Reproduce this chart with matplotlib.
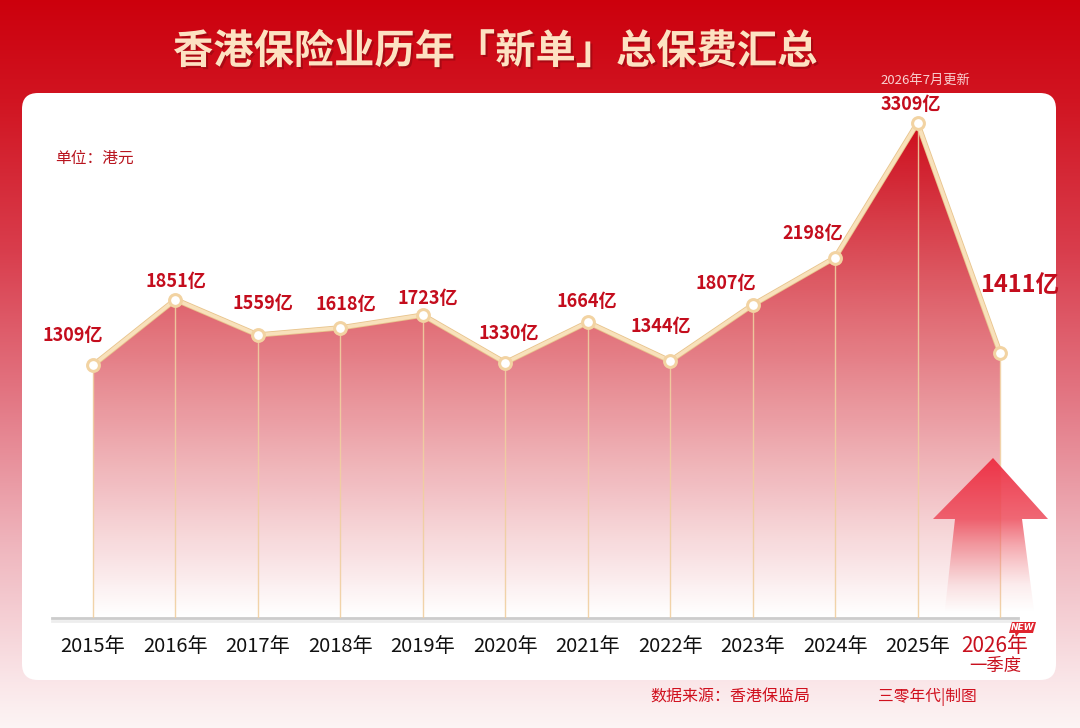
import numpy as np
import matplotlib
matplotlib.use("Agg")
import matplotlib.pyplot as plt
from matplotlib.patches import FancyBboxPatch, Polygon
from matplotlib import patheffects as pe
from matplotlib.transforms import blended_transform_factory

plt.rcParams['font.family'] = ['Noto Sans CJK SC', 'DejaVu Sans']

# ---------------- data ----------------
years = ['2015年', '2016年', '2017年', '2018年', '2019年', '2020年',
         '2021年', '2022年', '2023年', '2024年', '2025年', '2026年']
values = [1309, 1851, 1559, 1618, 1723, 1330, 1664, 1344, 1807, 2198, 3309, 1411]
value_labels = [f'{v}亿' for v in values]
title = '香港保险业历年「新单」总保费汇总'
update_note = '2026年7月更新'
unit_note = '单位：港元'
last_sub = '一季度'
source_note = '数据来源：香港保监局'
credit_note = '三零年代|制图'

# label offsets (pixels) relative to points – style only
label_offsets = [(-20, 30), (0, 18), (5, 31), (5, 23), (5, 17), (3, 29),
                 (-1, 21), (-9, 35), (-27, 21), (-22, 24), (-7, 19), (20, 68)]

W, H = 1080, 728
fig = plt.figure(figsize=(W / 100, H / 100), dpi=100)

# ---------------- background axes (pixel coords) ----------------
bg = fig.add_axes([0, 0, 1, 1], zorder=0)
bg.set_xlim(0, W)
bg.set_ylim(H, 0)
bg.axis('off')

ys = np.arange(H)
stops_y = [0, 100, 250, 400, 550, 680, 728]
stops_c = np.array([[0.80, 0.00, 0.05],
                    [0.82, 0.08, 0.13],
                    [0.85, 0.24, 0.30],
                    [0.89, 0.47, 0.52],
                    [0.94, 0.72, 0.75],
                    [0.98, 0.90, 0.91],
                    [0.99, 0.96, 0.96]])
bgimg = np.zeros((H, 1, 3))
for k in range(3):
    bgimg[:, 0, k] = np.interp(ys, stops_y, stops_c[:, k])
bg.imshow(bgimg, extent=[0, W, H, 0], aspect='auto', zorder=0, interpolation='bilinear')

card = FancyBboxPatch((22, 93), 1034, 587, boxstyle='round,pad=0,rounding_size=16',
                      facecolor='white', edgecolor='none', zorder=1)
bg.add_patch(card)

bg.text(495, 52, title, ha='center', va='center', fontsize=29, fontweight='bold',
        color='#fde2c2', zorder=3,
        path_effects=[pe.withSimplePatchShadow(offset=(1.5, -1.5), shadow_rgbFace='#8a0810', alpha=0.55)])
bg.text(925, 80, update_note, ha='center', va='center', fontsize=9.5, color='#f9d2d2', zorder=3)
bg.text(55, 158, unit_note, ha='left', va='center', fontsize=11.3, color='#b8141e', zorder=3)
bg.text(650, 697, source_note, ha='left', va='center', fontsize=11.5, color='#d0101e',
        fontweight='medium', zorder=3)
bg.text(878, 697, credit_note, ha='left', va='center', fontsize=11.3, color='#d0101e',
        fontweight='medium', zorder=3)

# ---------------- data axes ----------------
x = np.arange(len(values))
y0, ytop = -778, 3557
ax = fig.add_axes([52 / W, 110 / H, 998 / W, 525 / H], zorder=2)
ax.patch.set_alpha(0)

vmax = max(values)
# gradient fill under the curve
n = 256
t = np.linspace(0, 1, n)
grad = np.zeros((n, 1, 4))
grad[:, 0, 0] = 0.80
grad[:, 0, 1] = 0.03
grad[:, 0, 2] = 0.09
grad[:, 0, 3] = np.clip(t ** 1.0, 0, 1) * 0.98
im = ax.imshow(grad, extent=[x[0], x[-1], y0, vmax], origin='lower', aspect='auto',
               zorder=2, interpolation='bilinear')
poly = ax.fill_between(x, values, y0, facecolor='none', edgecolor='none')
im.set_clip_path(poly.get_paths()[0], transform=ax.transData)

ax.vlines(x, y0, values, color='#f0cfa0', lw=1, alpha=0.9, zorder=3)
ax.plot(x, values, color='#f8e1bb', lw=2.6, zorder=4, solid_joinstyle='round',
        path_effects=[pe.Stroke(linewidth=3.8, foreground='#e8c48c'), pe.Normal()])
ax.plot(x, values, linestyle='none', marker='o', ms=8.5, mfc='white', mec='#f2d3a2',
        mew=2.2, zorder=5)

for i, (xi, v) in enumerate(zip(x, values)):
    fs = 17 if i == len(values) - 1 else 13
    ax.annotate(value_labels[i], (xi, v), xytext=label_offsets[i], textcoords='offset pixels',
                ha='center', va='center', fontsize=fs, fontweight='bold', color='#c40d1d',
                zorder=6)

ax.set_xlim(-0.4972, 11.606)
ax.set_ylim(y0, ytop)
for s in ['top', 'right', 'left']:
    ax.spines[s].set_visible(False)
ax.spines['bottom'].set_position(('data', y0))
ax.spines['bottom'].set_color('#cccccc')
ax.spines['bottom'].set_linewidth(2)
ax.spines['bottom'].set_bounds(-0.4972, 11.22)
ax.spines['bottom'].set_path_effects([pe.SimpleLineShadow(offset=(0, -2), alpha=0.15, shadow_color='#888888'),
                                      pe.Normal()])
ax.set_yticks([])
ax.set_xticks([])

trans = blended_transform_factory(ax.transData, ax.transAxes)
ylab = -28 / 525
for i, lab in enumerate(years):
    if i == len(years) - 1:
        ax.text(x[i] - 0.06, ylab, lab, transform=trans, ha='center', va='center',
                fontsize=15, color='#c8101e', fontweight='medium')
        ax.text(x[i] - 0.06, -48 / 525, last_sub, transform=trans, ha='center', va='center',
                fontsize=12.5, color='#c8101e', fontweight='medium')
    else:
        ax.text(x[i], ylab, lab, transform=trans, ha='center', va='center',
                fontsize=14.5, color='#111111')

# ---------------- overlay (arrow, NEW tag) ----------------
ov = fig.add_axes([0, 0, 1, 1], zorder=3)
ov.set_xlim(0, W)
ov.set_ylim(H, 0)
ov.axis('off')
ov.patch.set_alpha(0)

arrow_pts = [(993, 458), (1048, 519), (1022, 519), (1035, 618), (944, 618), (955, 519), (933, 519)]
arrow = Polygon(arrow_pts, closed=True, facecolor='none', edgecolor='none')
ov.add_patch(arrow)
ay = np.arange(458, 619)
agrad = np.zeros((len(ay), 1, 4))
agrad[:, 0, 0] = 0.93
agrad[:, 0, 1] = np.interp(ay, [458, 519, 620], [0.18, 0.30, 0.6])
agrad[:, 0, 2] = np.interp(ay, [458, 519, 620], [0.26, 0.36, 0.6])
agrad[:, 0, 3] = np.interp(ay, [458, 519, 545, 585, 612], [0.95, 0.85, 0.55, 0.15, 0.0])
aim = ov.imshow(agrad, extent=[930, 1050, 618, 458], aspect='auto', interpolation='bilinear', zorder=2)
aim.set_clip_path(arrow)
ov.set_xlim(0, W)
ov.set_ylim(H, 0)

tag = Polygon([(1012, 622), (1036, 622), (1033, 633), (1019, 633), (1016, 637), (1015, 633), (1009, 633)],
              closed=True, facecolor='#e0242e', edgecolor='none', zorder=3)
ov.add_patch(tag)
ov.text(1022.5, 627.5, 'NEW', ha='center', va='center', fontsize=6.5, color='white',
        fontweight='bold', style='italic', family='DejaVu Sans', zorder=4)

fig.savefig('out.png', dpi=100)
